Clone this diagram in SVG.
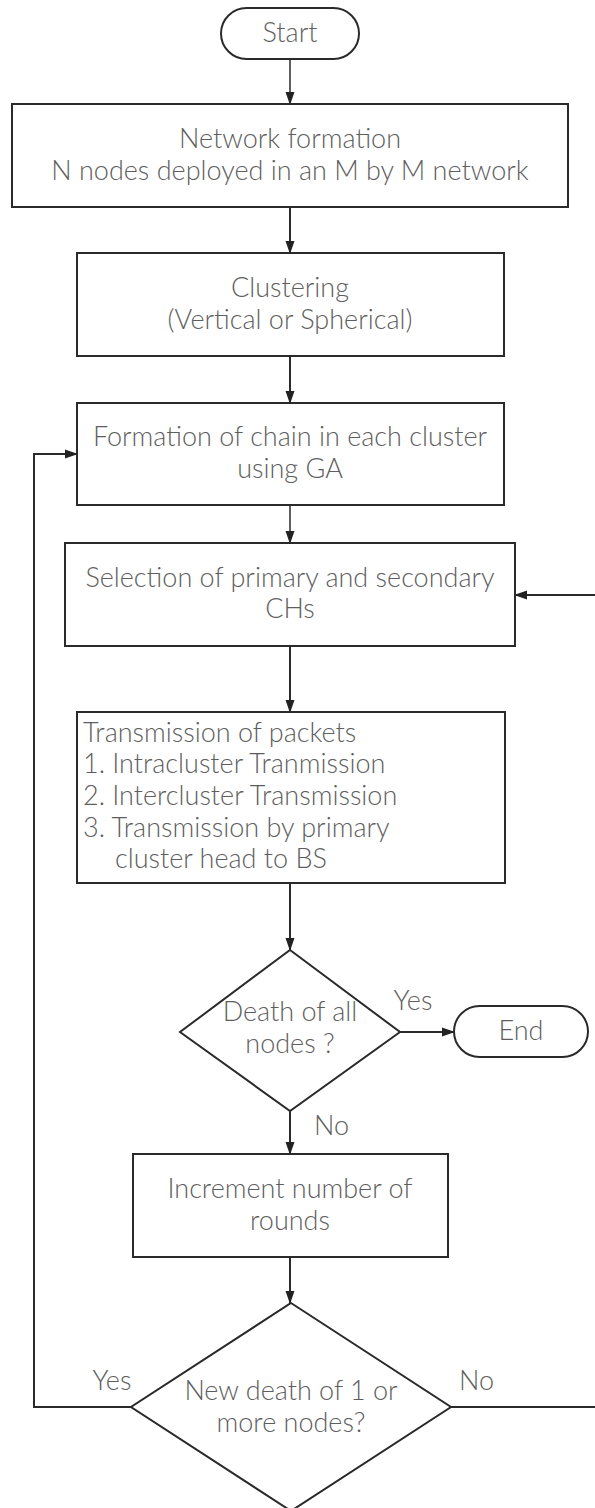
<svg xmlns="http://www.w3.org/2000/svg" width="595" height="1508" viewBox="0 0 595 1508">
<style>
.s{fill:#fff;stroke:#2a2a2a;stroke-width:2}
.t{font-family:Lato,"Liberation Sans",sans-serif;font-weight:300;font-size:27px;fill:#5e5e5e;text-anchor:middle}
.l{text-anchor:start}
.c{fill:none;stroke:#2a2a2a;stroke-width:2}
.thin{stroke-width:1.5}
</style>
<defs>
<marker id="a" markerUnits="userSpaceOnUse" markerWidth="13" markerHeight="10" refX="12" refY="5" orient="auto">
<path d="M0,0.5 L13,5 L0,9.5 Z" fill="#222"/>
</marker>
</defs>
<rect width="595" height="1508" fill="#fff"/>
<g id="connectors">
<line class="c thin" x1="290" y1="59" x2="290" y2="104" marker-end="url(#a)"/>
<line class="c" x1="290" y1="207" x2="290" y2="253" marker-end="url(#a)"/>
<line class="c" x1="290" y1="356" x2="290" y2="403" marker-end="url(#a)"/>
<line class="c thin" x1="290" y1="505" x2="290" y2="543" marker-end="url(#a)"/>
<line class="c" x1="290" y1="646" x2="290" y2="712" marker-end="url(#a)"/>
<line class="c" x1="290" y1="883" x2="290" y2="950" marker-end="url(#a)"/>
<line class="c" x1="400" y1="1032" x2="454" y2="1032" marker-end="url(#a)"/>
<line class="c" x1="290" y1="1111" x2="290" y2="1154" marker-end="url(#a)"/>
<line class="c" x1="290" y1="1257" x2="290" y2="1303" marker-end="url(#a)"/>
<polyline class="c" points="131,1407 34,1407 34,454 77,454" marker-end="url(#a)"/>
<polyline class="c" points="451,1407 600,1407 600,595 515,595" marker-end="url(#a)"/>
<text class="t" x="413" y="1010">Yes</text>
<text class="t l" x="314" y="1135">No</text>
<text class="t" x="112" y="1390">Yes</text>
<text class="t l" x="459" y="1390">No</text>
</g>
<g id="start">
<rect class="s" x="221" y="8" width="138" height="51" rx="25.5"/>
<text class="t" x="290" y="42">Start</text>
</g>
<g id="network">
<rect class="s" x="12" y="104" width="556" height="103"/>
<text class="t" x="290" y="148">Network formation</text>
<text class="t" x="290" y="180">N nodes deployed in an M by M network</text>
</g>
<g id="clustering">
<rect class="s" x="77" y="253" width="427" height="103"/>
<text class="t" x="290" y="297">Clustering</text>
<text class="t" x="290" y="329">(Vertical or Spherical)</text>
</g>
<g id="chain">
<rect class="s" x="77" y="403" width="427" height="102"/>
<text class="t" x="290" y="446">Formation of chain in each cluster</text>
<text class="t" x="290" y="478">using GA</text>
</g>
<g id="selection">
<rect class="s" x="65" y="543" width="450" height="103"/>
<text class="t" x="290" y="587">Selection of primary and secondary</text>
<text class="t" x="290" y="618">CHs</text>
</g>
<g id="transmission">
<rect class="s" x="77" y="712" width="428" height="171"/>
<text class="t l" x="83" y="742">Transmission of packets</text>
<text class="t l" x="83" y="773">1. Intracluster Tranmission</text>
<text class="t l" x="83" y="805">2. Intercluster Transmission</text>
<text class="t l" x="83" y="837">3. Transmission by primary</text>
<text class="t l" x="115" y="868">cluster head to BS</text>
</g>
<g id="death-all">
<polygon class="s" points="290,950 400,1032 290,1111 180,1032"/>
<text class="t" x="290" y="1021">Death of all</text>
<text class="t" x="290" y="1053">nodes  ?</text>
</g>
<g id="end">
<rect class="s" x="454" y="1006" width="134" height="51" rx="25.5"/>
<text class="t" x="521" y="1040">End</text>
</g>
<g id="increment">
<rect class="s" x="133" y="1154" width="315" height="103"/>
<text class="t" x="290" y="1198">Increment number of</text>
<text class="t" x="290" y="1230">rounds</text>
</g>
<g id="new-death">
<polygon class="s" points="291,1303 451,1407 291,1511 131,1407"/>
<text class="t" x="291" y="1400">New death of 1 or</text>
<text class="t" x="291" y="1432">more nodes?</text>
</g>
</svg>
